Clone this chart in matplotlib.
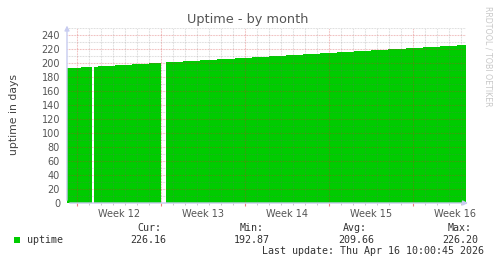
import matplotlib
matplotlib.use("Agg")
import matplotlib.pyplot as plt
from matplotlib.patches import Rectangle
from matplotlib.ticker import FixedLocator, NullFormatter

# ---- data (x in days from left edge of the graph) ----
step_edges = [0.00, 1.14, 2.57, 3.99, 5.42, 6.84, 8.27, 9.69, 11.12, 12.54, 13.97,
              15.39, 16.82, 18.24, 19.67, 21.09, 22.52, 23.94, 25.37, 26.79, 28.22,
              29.64, 31.07, 32.49, 33.25]
uptime_days = [192.87, 194.32, 195.77, 197.22, 198.67, 200.12, 201.56, 203.01,
               204.46, 205.91, 207.36, 208.81, 210.26, 211.71, 213.16, 214.61,
               216.06, 217.50, 218.95, 220.40, 221.85, 223.30, 224.75, 226.20]
gaps = [(2.11, 2.27), (7.83, 8.25)]          # unknown-data intervals
week_starts = [0.83, 7.83, 14.83, 21.83, 28.83]
week_labels = ["Week 12", "Week 13", "Week 14", "Week 15", "Week 16"]
stat_names = ["Cur:", "Min:", "Avg:", "Max:"]
stat_values = ["226.16", "192.87", "209.66", "226.20"]
last_update = "Last update: Thu Apr 16 10:00:45 2026"

W, H = 497, 264
fig = plt.figure(figsize=(W / 100, H / 100), dpi=100)
fig.patch.set_facecolor("white")

def fx(px):
    return px / W

def fy(py):
    return 1 - py / H

ax = fig.add_axes([fx(67), fy(203), fx(466) - fx(67), fy(28) - fy(203)])
ax.set_xlim(step_edges[0], step_edges[-1])
ax.set_ylim(0, 250)

# split segments around gaps and draw as bars
green = "#00CC00"
for i, v in enumerate(uptime_days):
    pieces = [(step_edges[i], step_edges[i + 1])]
    for g0, g1 in gaps:
        new = []
        for a, b in pieces:
            if g1 <= a or g0 >= b:
                new.append((a, b))
            else:
                if a < g0:
                    new.append((a, g0))
                if g1 < b:
                    new.append((g1, b))
        pieces = new
    for a, b in pieces:
        ax.bar(a, v, width=b - a, align="edge", color=green, linewidth=0, zorder=1)

# grid (drawn above data, translucent like rrdtool)
ax.set_axisbelow(False)
ax.xaxis.set_major_locator(FixedLocator(week_starts))
day_ticks = [week_starts[0] + d for d in range(0, 33) if week_starts[0] + d < step_edges[-1]]
ax.xaxis.set_minor_locator(FixedLocator(day_ticks))
ax.xaxis.set_major_formatter(NullFormatter())
ax.yaxis.set_major_locator(FixedLocator(list(range(0, 241, 20))))
ax.yaxis.set_minor_locator(FixedLocator(list(range(10, 251, 20))))
dot = (0, (0.75, 0.75))
ax.grid(which="minor", color="#707070", alpha=0.28, linestyle=dot, linewidth=0.75)
ax.grid(which="major", color="#D03030", alpha=0.38, linestyle=dot, linewidth=0.75)

ax.tick_params(axis="y", which="both", length=0, pad=5, labelsize=7, labelcolor="#555555")
ax.tick_params(axis="x", which="major", length=2, color="#F08080", direction="out")
ax.tick_params(axis="x", which="minor", length=1.5, color="#C0C0C0", direction="out")
for s in ax.spines.values():
    s.set_visible(False)

sec = ax.secondary_xaxis("bottom")
sec.set_xticks([w + 3.5 for w in week_starts])
sec.set_xticklabels(week_labels)
sec.tick_params(length=0, pad=4, labelsize=7, labelcolor="#555555")
for s in sec.spines.values():
    s.set_visible(False)

# axis arrows
axis_col = "#C8CCF0"
ax.annotate("", xy=(0, 1.03), xytext=(0, 0), xycoords="axes fraction",
            arrowprops=dict(arrowstyle="-|>", color=axis_col, lw=1, mutation_scale=7))
ax.annotate("", xy=(1.012, 0), xytext=(0, 0), xycoords="axes fraction",
            arrowprops=dict(arrowstyle="-|>", color=axis_col, lw=1, mutation_scale=7))

# titles
fig.text(fx(248), fy(19), "Uptime - by month", ha="center", va="center",
         fontsize=9.3, color="#555555")
fig.text(fx(14), fy(114), "uptime in days", ha="center", va="center",
         rotation=90, fontsize=7.8, color="#444444")
fig.text(fx(488), fy(56), "RRDTOOL / TOBI OETIKER", ha="center", va="center",
         rotation=-90, fontsize=5.7, color="#C8C8C8")

# legend
mono = "DejaVu Sans Mono"
fig.patches.append(Rectangle((fx(14), fy(243)), fx(6), 6 / H, transform=fig.transFigure,
                             facecolor=green, edgecolor="none"))
fig.text(fx(27), fy(240), "uptime", ha="left", va="center", family=mono,
         fontsize=7.2, color="#333333")
name_x = [137, 240, 343, 448]
val_x = [130, 234, 338, 442]
for nx, vx, n, v in zip(name_x, val_x, stat_names, stat_values):
    fig.text(fx(nx), fy(228), n, ha="left", va="center", family=mono,
             fontsize=7.2, color="#333333")
    fig.text(fx(vx), fy(240), v, ha="left", va="center", family=mono,
             fontsize=7.2, color="#333333")
fig.text(fx(262), fy(251.5), last_update, ha="left", va="center", family=mono,
         fontsize=7.2, color="#333333")

fig.savefig("out.png", dpi=100, facecolor="white")
